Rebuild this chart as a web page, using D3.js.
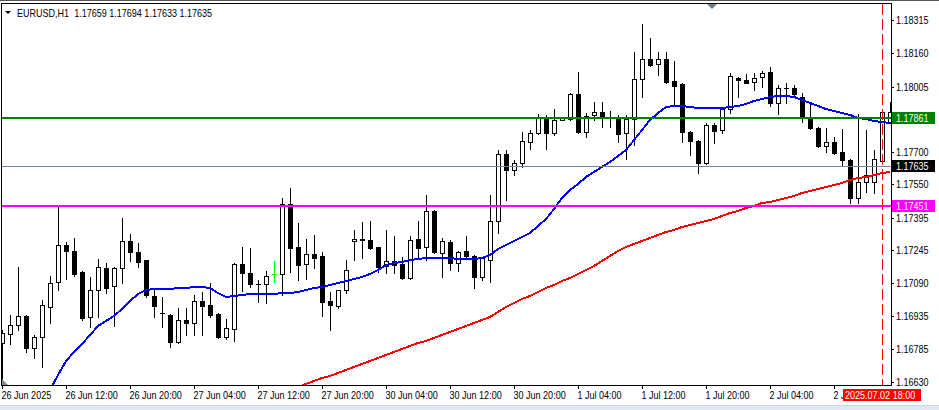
<!DOCTYPE html>
<html><head><meta charset="utf-8">
<script src="https://cdn.jsdelivr.net/npm/d3@7"></script>
<style>
html,body{margin:0;padding:0;background:#fff;overflow:hidden}
svg{display:block}
text{font-family:'Liberation Sans',Arial,sans-serif;font-size:11px;fill:#000}
</style></head><body>
<svg id="c" width="939" height="410"></svg>
<script>
const titleText = "EURUSD,H1  1.17659 1.17694 1.17633 1.17635";

const open = [
1.16812,1.16853,1.16895,1.16937,1.16788,1.16839,1.16979,1.17095,1.17268,1.17240,
1.17142,1.16933,1.17058,1.17161,1.17077,1.17161,1.17286,1.17235,1.17198,1.17030,
1.16951,1.16942,1.16816,1.16919,1.16905,1.17007,1.16988,1.16947,1.16839,1.16877,
1.17179,1.17137,1.17086,1.17086,1.17133,1.17133,1.17459,1.17258,1.17179,1.17226,
1.17216,1.17007,1.16984,1.17058,1.17286,1.17296,1.17291,1.17258,1.17170,1.17193,
1.17179,1.17114,1.17296,1.17258,1.17426,1.17230,1.17282,1.17184,1.17240,1.17216,
1.17119,1.17198,1.17379,1.17691,1.17617,1.17649,1.17747,1.17789,1.17863,1.17789,
1.17850,1.17854,1.17971,1.17794,1.17873,1.17887,1.17863,1.17859,1.17789,1.17854,
1.18040,1.18133,1.18110,1.18133,1.18031,1.18017,1.17794,1.17752,1.17649,1.17826,
1.17803,1.17901,1.18045,1.18036,1.18026,1.18050,1.18073,1.17929,1.17998,1.17998,
1.17957,1.17863,1.17812,1.17729,1.17747,1.17701,1.17663,1.17486,1.17561,1.17561,
1.17659,1.17840];
const high = [
1.16872,1.16942,1.17165,1.16940,1.16849,1.17012,1.17123,1.17445,1.17282,1.17300,
1.17145,1.17119,1.17203,1.17184,1.17165,1.17393,1.17319,1.17277,1.17200,1.17068,
1.17026,1.16945,1.16974,1.16974,1.17035,1.17049,1.17091,1.16950,1.16923,1.17182,
1.17258,1.17254,1.17105,1.17147,1.17193,1.17486,1.17533,1.17370,1.17296,1.17314,
1.17235,1.17049,1.17060,1.17198,1.17338,1.17375,1.17379,1.17260,1.17338,1.17310,
1.17212,1.17310,1.17379,1.17500,1.17430,1.17300,1.17291,1.17238,1.17310,1.17220,
1.17210,1.17500,1.17710,1.17710,1.17663,1.17794,1.17803,1.17877,1.17873,1.17901,
1.17861,1.17975,1.18073,1.17882,1.17933,1.17933,1.17891,1.17873,1.17873,1.18166,
1.18296,1.18231,1.18166,1.18166,1.18125,1.18020,1.17798,1.17756,1.17836,1.17836,
1.17905,1.18068,1.18048,1.18064,1.18068,1.18078,1.18096,1.18012,1.18022,1.18012,
1.17975,1.17929,1.17815,1.17812,1.17770,1.17808,1.17667,1.17877,1.17803,1.17710,
1.17890,1.17933];
const low = [
1.16602,1.16807,1.16872,1.16770,1.16742,1.16700,1.16905,1.17058,1.17109,1.17123,
1.16919,1.16886,1.16933,1.17044,1.16891,1.17091,1.17193,1.17165,1.17026,1.16933,
1.16886,1.16793,1.16812,1.16849,1.16849,1.16849,1.16933,1.16835,1.16830,1.16821,
1.17054,1.17072,1.17002,1.16998,1.17095,1.17035,1.17142,1.17105,1.17109,1.17161,
1.16937,1.16872,1.16974,1.17044,1.17198,1.17207,1.17250,1.17142,1.17137,1.17137,
1.17109,1.17110,1.17207,1.17198,1.17230,1.17119,1.17151,1.17147,1.17212,1.17068,
1.17105,1.17095,1.17324,1.17477,1.17594,1.17631,1.17715,1.17785,1.17715,1.17780,
1.17848,1.17850,1.17789,1.17770,1.17850,1.17817,1.17817,1.17747,1.17668,1.17733,
1.17957,1.18102,1.18059,1.18022,1.17919,1.17747,1.17687,1.17603,1.17645,1.17742,
1.17789,1.17880,1.17957,1.18020,1.17989,1.18003,1.17915,1.17877,1.17929,1.17968,
1.17840,1.17808,1.17724,1.17701,1.17692,1.17640,1.17463,1.17463,1.17514,1.17510,
1.17655,1.17836];
const close = [
1.16858,1.16895,1.16937,1.16788,1.16839,1.16988,1.17091,1.17268,1.17240,1.17133,
1.16928,1.17058,1.17165,1.17068,1.17161,1.17286,1.17235,1.17189,1.17035,1.16984,
1.16950,1.16816,1.16919,1.16905,1.17007,1.16984,1.16942,1.16839,1.16881,1.17179,
1.17137,1.17086,1.17087,1.17123,1.17133,1.17459,1.17254,1.17175,1.17226,1.17207,
1.17002,1.16988,1.17058,1.17151,1.17296,1.17291,1.17254,1.17165,1.17193,1.17175,
1.17114,1.17291,1.17254,1.17426,1.17235,1.17286,1.17184,1.17235,1.17216,1.17119,
1.17207,1.17379,1.17691,1.17617,1.17649,1.17752,1.17789,1.17863,1.17789,1.17850,
1.17859,1.17971,1.17794,1.17868,1.17887,1.17859,1.17859,1.17784,1.17854,1.18040,
1.18133,1.18106,1.18133,1.18026,1.18008,1.17794,1.17752,1.17649,1.17826,1.17798,
1.17901,1.18054,1.18036,1.18022,1.18045,1.18068,1.17929,1.17998,1.17997,1.17971,
1.17863,1.17812,1.17729,1.17747,1.17696,1.17663,1.17486,1.17561,1.17594,1.17668,
1.17887,1.17887];

const maBlue = [
null,null,null,null,null,null,1.16593,1.16663,1.16728,1.16770,
1.16807,1.16849,1.16891,1.16914,1.16937,1.16970,1.17007,1.17040,1.17058,1.17063,
1.17063,1.17063,1.17068,1.17068,1.17072,1.17072,1.17068,1.17044,1.17026,1.17030,
1.17035,1.17040,1.17040,1.17040,1.17040,1.17044,1.17044,1.17049,1.17058,1.17068,
1.17072,1.17082,1.17091,1.17100,1.17109,1.17119,1.17133,1.17151,1.17175,1.17184,
1.17189,1.17198,1.17203,1.17207,1.17207,1.17207,1.17207,1.17203,1.17203,1.17203,
1.17207,1.17221,1.17249,1.17268,1.17286,1.17305,1.17324,1.17356,1.17389,1.17435,
1.17486,1.17524,1.17552,1.17584,1.17607,1.17631,1.17654,1.17682,1.17710,1.17756,
1.17803,1.17850,1.17882,1.17910,1.17915,1.17915,1.17910,1.17905,1.17905,1.17905,
1.17905,1.17910,1.17915,1.17924,1.17938,1.17947,1.17957,1.17961,1.17961,1.17957,
1.17943,1.17929,1.17915,1.17901,1.17891,1.17882,1.17873,1.17859,1.17854,1.17845,
1.17840,1.17836];
const maRed = [
null,null,null,null,null,null,null,null,null,null,
null,null,null,null,null,null,null,null,null,null,
null,null,null,null,null,null,null,null,null,null,
null,null,null,null,null,null,null,1.16607,1.16621,1.16635,
1.16649,1.16658,1.16672,1.16686,1.16700,1.16714,1.16728,1.16742,1.16756,1.16770,
1.16784,1.16798,1.16812,1.16821,1.16835,1.16849,1.16863,1.16877,1.16891,1.16905,
1.16919,1.16933,1.16956,1.16979,1.16998,1.17016,1.17030,1.17049,1.17068,1.17082,
1.17100,1.17114,1.17133,1.17151,1.17170,1.17193,1.17216,1.17240,1.17258,1.17272,
1.17286,1.17300,1.17314,1.17328,1.17338,1.17351,1.17361,1.17370,1.17379,1.17389,
1.17403,1.17417,1.17426,1.17440,1.17449,1.17463,1.17468,1.17477,1.17486,1.17496,
1.17510,1.17519,1.17528,1.17538,1.17547,1.17556,1.17570,1.17580,1.17584,1.17594,
1.17603,1.17607];

const priceTicks = [1.18315,1.18160,1.18005,1.17700,1.17550,1.17395,1.17245,1.17090,1.16935,1.16785,1.16630];
const timeTickBars = [0,8,16,24,32,40,48,56,64,72,80,88,96,104];
const timeTickLabels = ["26 Jun 2025","26 Jun 12:00","26 Jun 20:00","27 Jun 04:00","27 Jun 12:00","27 Jun 20:00",
  "30 Jun 04:00","30 Jun 12:00","30 Jun 20:00","1 Jul 04:00","1 Jul 12:00","1 Jul 20:00","2 Jul 04:00","2 Jul 12:00"];
const levelPrices = [1.17861, 1.17635, 1.17451];
const levelLabels = ["1.17861","1.17635","1.17451"];
const vlineBar = 110;
const vlineLabel = "2025.07.02 18:00";

// ---------- drawing ----------
const svg = d3.select('#c');
const levelColors = ['#008000', '#778899', '#ff00ff'];
const levelBoxColors = ['#008000', '#000000', '#ff00ff'];
const levelWidths = [2, 1, 2];
const squeeze = 0.82;

const x = d3.scaleLinear().domain([0, 111]).range([2, 890]);
const y = d3.scaleLinear().domain([1.16630, 1.18315]).rangeRound([382, 20]);

svg.append('rect').attr('width', 939).attr('height', 410).attr('fill', '#fff');
svg.append('defs').append('clipPath').attr('id', 'pc')
  .append('rect').attr('x', 2).attr('y', 4).attr('width', 889).attr('height', 381);

const plot = svg.append('g').attr('clip-path', 'url(#pc)').attr('shape-rendering', 'crispEdges');

// candles
const bars = plot.selectAll('g.bar').data(d3.range(open.length)).join('g').attr('class', 'bar');
bars.each(function(i) {
  const g = d3.select(this);
  const cx = x(i);
  const yo = y(open[i]), yc = y(close[i]), yh = y(high[i]), yl = y(low[i]);
  const doji = open[i] === close[i];
  const col = doji ? '#00ff00' : '#000';
  g.append('line').attr('x1', cx + 0.5).attr('x2', cx + 0.5).attr('y1', yh).attr('y2', yl + 1)
    .attr('stroke', col).attr('stroke-width', 1);
  const top = Math.min(yo, yc), bot = Math.max(yo, yc);
  if (doji || bot - top < 1) {
    g.append('line').attr('x1', cx - 2).attr('x2', cx + 3).attr('y1', top + 0.5).attr('y2', top + 0.5)
      .attr('stroke', col).attr('stroke-width', 1);
  } else if (close[i] > open[i]) {
    g.append('rect').attr('x', cx - 1.5).attr('y', top + 0.5).attr('width', 4).attr('height', bot - top)
      .attr('fill', '#fff').attr('stroke', '#000').attr('stroke-width', 1);
  } else {
    g.append('rect').attr('x', cx - 2).attr('y', top).attr('width', 5).attr('height', bot - top + 1)
      .attr('fill', '#000');
  }
});

// moving averages
const maLine = d3.line().defined(d => d != null).x((d, i) => x(i)).y(d => y(d));
plot.append('path').attr('d', maLine(maRed)).attr('fill', 'none').attr('stroke', '#ff0000').attr('stroke-width', 2);
plot.append('path').attr('d', maLine(maBlue)).attr('fill', 'none').attr('stroke', '#0000ff').attr('stroke-width', 2);

// horizontal levels
levelPrices.forEach((p, k) => {
  const yy = y(p) + (levelWidths[k] === 1 ? 0.5 : 0);
  plot.append('line').attr('x1', 0).attr('x2', 892).attr('y1', yy).attr('y2', yy)
    .attr('stroke', levelColors[k]).attr('stroke-width', levelWidths[k]);
});

// vertical dashed line
plot.append('line').attr('x1', x(vlineBar) + 0.5).attr('x2', x(vlineBar) + 0.5).attr('y1', 4).attr('y2', 385)
  .attr('stroke', '#ff0000').attr('stroke-width', 1).attr('stroke-dasharray', '11,4');

// frame
const frame = svg.append('g').attr('shape-rendering', 'crispEdges');
frame.append('rect').attr('x', 0).attr('y', 0).attr('width', 939).attr('height', 1).attr('fill', '#555');
frame.append('line').attr('x1', 1).attr('x2', 892).attr('y1', 3.5).attr('y2', 3.5).attr('stroke', '#000');
frame.append('line').attr('x1', 1.5).attr('x2', 1.5).attr('y1', 3).attr('y2', 386).attr('stroke', '#000');
frame.append('line').attr('x1', 891.5).attr('x2', 891.5).attr('y1', 3).attr('y2', 386).attr('stroke', '#000');
frame.append('line').attr('x1', 1).attr('x2', 892).attr('y1', 385.5).attr('y2', 385.5).attr('stroke', '#000');

// small markers
svg.append('path').attr('d', 'M707,4L717,4L712,9Z').attr('fill', '#6f7f90');
svg.append('path').attr('d', 'M2,379L2,385L8,385Z').attr('fill', '#7f8a96');
svg.append('rect').attr('x', 0).attr('y', 405).attr('width', 939).attr('height', 1).attr('fill', '#d6d6d6');
svg.append('rect').attr('x', 0).attr('y', 406).attr('width', 939).attr('height', 4).attr('fill', '#e0e9f3');

// header
svg.append('path').attr('d', 'M5,11L11,11L8,14Z').attr('fill', '#000');
svg.append('text').attr('x', 17).attr('y', 17).attr('xml:space', 'preserve').style('white-space', 'pre').text(titleText);

// price axis
const yAxis = d3.axisRight(y).tickValues(priceTicks).tickFormat(d3.format('.5f')).tickSize(3).tickPadding(2).tickSizeOuter(0);
const ya = svg.append('g').attr('transform', 'translate(891,0)').call(yAxis);
ya.select('.domain').remove();
ya.selectAll('.tick line').attr('stroke', '#000').attr('shape-rendering', 'crispEdges');
ya.selectAll('.tick text').attr('font-family', null).attr('font-size', null).attr('fill', '#000');

// level labels on axis
levelPrices.forEach((p, k) => {
  const yy = y(p);
  svg.append('rect').attr('x', 892).attr('y', yy - 6).attr('width', 43).attr('height', 12).attr('fill', levelBoxColors[k]);
  svg.append('text').attr('x', 896).attr('y', yy).attr('dy', '0.34em').style('fill', '#fff').text(levelLabels[k]);
});

// time axis
const xAxis = d3.axisBottom(x).tickValues(timeTickBars).tickFormat((d, i) => timeTickLabels[i]).tickSize(4).tickSizeOuter(0);
const xa = svg.append('g').attr('transform', 'translate(0,385)').call(xAxis);
xa.select('.domain').remove();
xa.selectAll('.tick line').attr('stroke', '#000').attr('shape-rendering', 'crispEdges');
xa.selectAll('.tick text').attr('font-family', null).attr('font-size', null).attr('fill', '#000')
  .attr('text-anchor', 'start').attr('x', -1).attr('dy', null).attr('y', 13.5);

// vertical line time label
svg.append('rect').attr('x', 843).attr('y', 389).attr('width', 78).attr('height', 12).attr('fill', '#ff0000');
svg.append('text').attr('x', 845).attr('y', 398.5).style('fill', '#fff').text(vlineLabel);

// narrow the sans font horizontally to match the terminal's compact font
svg.selectAll('text').each(function() {
  const w = this.getComputedTextLength();
  d3.select(this).attr('textLength', (w * squeeze).toFixed(1)).attr('lengthAdjust', 'spacingAndGlyphs');
});
</script>
</body></html>
